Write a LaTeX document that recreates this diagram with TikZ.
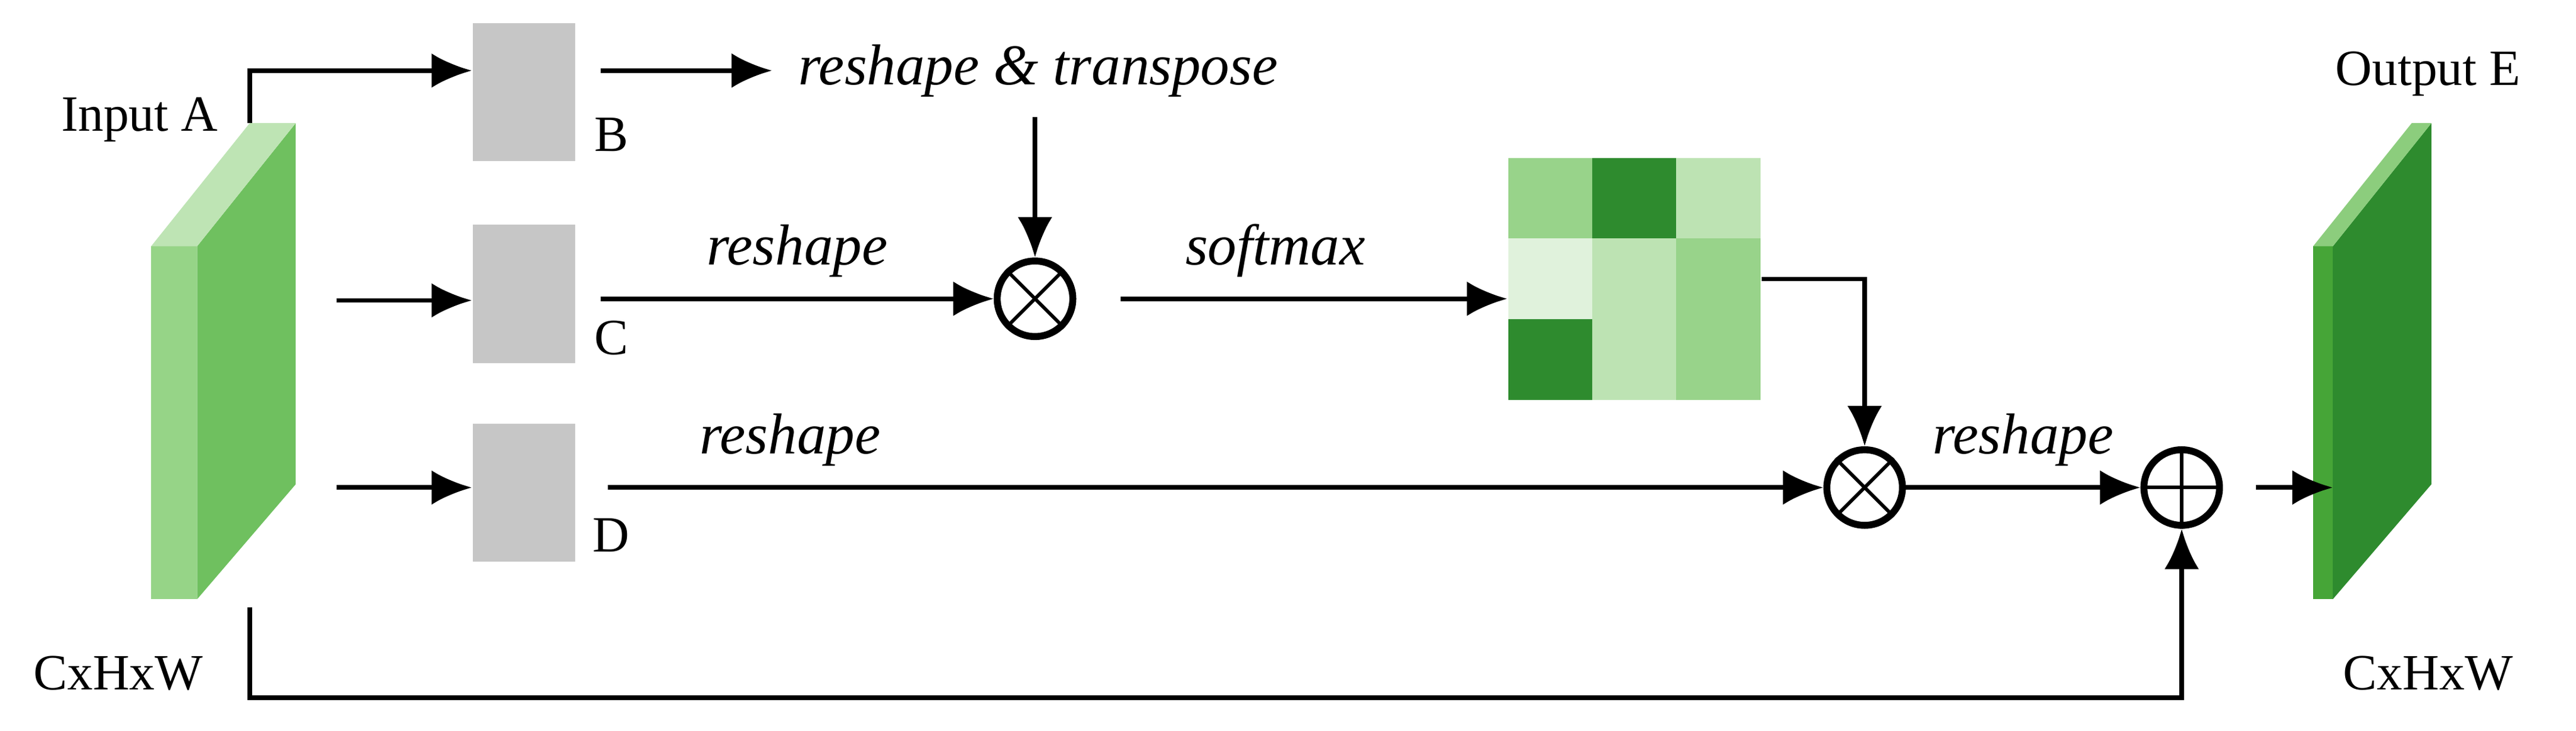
\documentclass[tikz,border=0pt]{standalone}
\usepackage{fontspec}
\setmainfont{Liberation Serif}
\usetikzlibrary{arrows.meta}
\begin{document}
\begin{tikzpicture}[x=0.01cm,y=-0.01cm,
  conn/.style={line width=0.8pt,-{Latex[length=7pt,width=6pt]}},
  gbox/.style={fill=gray!45,draw=none,minimum width=0.62cm,minimum height=0.84cm,inner sep=0},
  op/.style={circle,draw,line width=1.2pt,minimum size=0.46cm,inner sep=0},
  lab/.style={font=\fontsize{8.8}{11}\selectfont},
  ilab/.style={font=\fontsize{10}{12}\selectfont\itshape},
  cell/.style={minimum width=0.515cm,minimum height=0.493cm,inner sep=0,draw=none}]
\useasboundingbox (0,0) rectangle (1568,445);
% input slab
\fill[color={rgb,255:red,150;green,212;blue,135}] (92,150) rectangle (120,365);
\fill[color={rgb,255:red,111;green,192;blue,95}] (120,150)--(180,75)--(180,295)--(120,365)--cycle;
\fill[color={rgb,255:red,190;green,228;blue,180}] (92,150)--(152,75)--(180,75)--(120,150)--cycle;
\coordinate (inTop) at (152,75);
\coordinate (inBot) at (152,370);
\node[lab] (inA) at (85,73) {Input A};
\node[lab] (inC) at (72,410) {CxHxW};
% output slab
\fill[color={rgb,255:red,70;green,165;blue,55}] (1408,150) rectangle (1420,365);
\fill[color={rgb,255:red,46;green,139;blue,46}] (1420,150)--(1480,75)--(1480,295)--(1420,365)--cycle;
\fill[color={rgb,255:red,140;green,205;blue,125}] (1408,150)--(1468,75)--(1480,75)--(1420,150)--cycle;
\coordinate (outL) at (1420,297);
\node[lab] (outE) at (1478,45) {Output E};
\node[lab] (outC) at (1478,410) {CxHxW};
% boxes
\node[gbox] (B) at (319,56) {};
\node[gbox] (C) at (319,179) {};
\node[gbox] (D) at (319,300) {};
\node[lab] at (372,82) {B};
\node[lab] at (372,206) {C};
\node[lab] at (372,326) {D};
\node[ilab] (rt) at (632,43) {reshape \& transpose};
% operators
\node[op] (m1) at (630,182) {};
\draw[line width=0.6pt] (m1.north west)--(m1.south east) (m1.north east)--(m1.south west);
\node[op] (m2) at (1135,297) {};
\draw[line width=0.6pt] (m2.north west)--(m2.south east) (m2.north east)--(m2.south west);
\node[op] (p) at (1328,297) {};
\draw[line width=0.6pt] (p.north)--(p.south) (p.west)--(p.east);
% matrix
\node[cell,fill={rgb,255:red,152;green,211;blue,138}] (c11) at (944,121) {};
\node[cell,fill={rgb,255:red,46;green,139;blue,46}] (c12) at (995,121) {};
\node[cell,fill={rgb,255:red,189;green,227;blue,179}] (c13) at (1046,121) {};
\node[cell,fill={rgb,255:red,224;green,242;blue,220}] (c21) at (944,170) {};
\node[cell,fill={rgb,255:red,189;green,227;blue,179}] (c22) at (995,170) {};
\node[cell,fill={rgb,255:red,152;green,211;blue,138}] (c23) at (1046,170) {};
\node[cell,fill={rgb,255:red,46;green,139;blue,46}] (c31) at (944,219) {};
\node[cell,fill={rgb,255:red,189;green,227;blue,179}] (c32) at (995,219) {};
\node[cell,fill={rgb,255:red,152;green,211;blue,138}] (c33) at (1046,219) {};
% connectors
\draw[conn] (inTop) -- (152,43) -- (B.west|-0,43);
\draw[conn] ([xshift=0.15cm]B.east|-0,43) -- (470,43);
\draw[conn] (rt.south-|m1) -- (m1.north);
\coordinate (cin) at (205,183);
\draw[conn] (cin) -- (C.west|-cin);
\draw[conn] ([xshift=0.15cm]C.east|-m1) -- node[ilab,above] {reshape} (m1.west);
\draw[conn] ([xshift=0.27cm]m1.east) -- node[ilab,above,pos=0.4] {softmax} (c21.west|-m1);
\draw[conn] (c23.east) -- (m2|-c23) -- (m2.north);
\coordinate (din) at (205,297);
\draw[conn] (din) -- (D.west|-din);
\draw[conn] (370,297) -- node[ilab,above,pos=0.15] {reshape} (m2.west);
\draw[conn] (m2.east) -- node[ilab,above] {reshape} (p.west);
\draw[conn] ([xshift=0.2cm]p.east) -- (outL);
\draw[conn] (inBot) -- (152,425) -- (p|-0,425) -- (p.south);
\end{tikzpicture}
\end{document}
